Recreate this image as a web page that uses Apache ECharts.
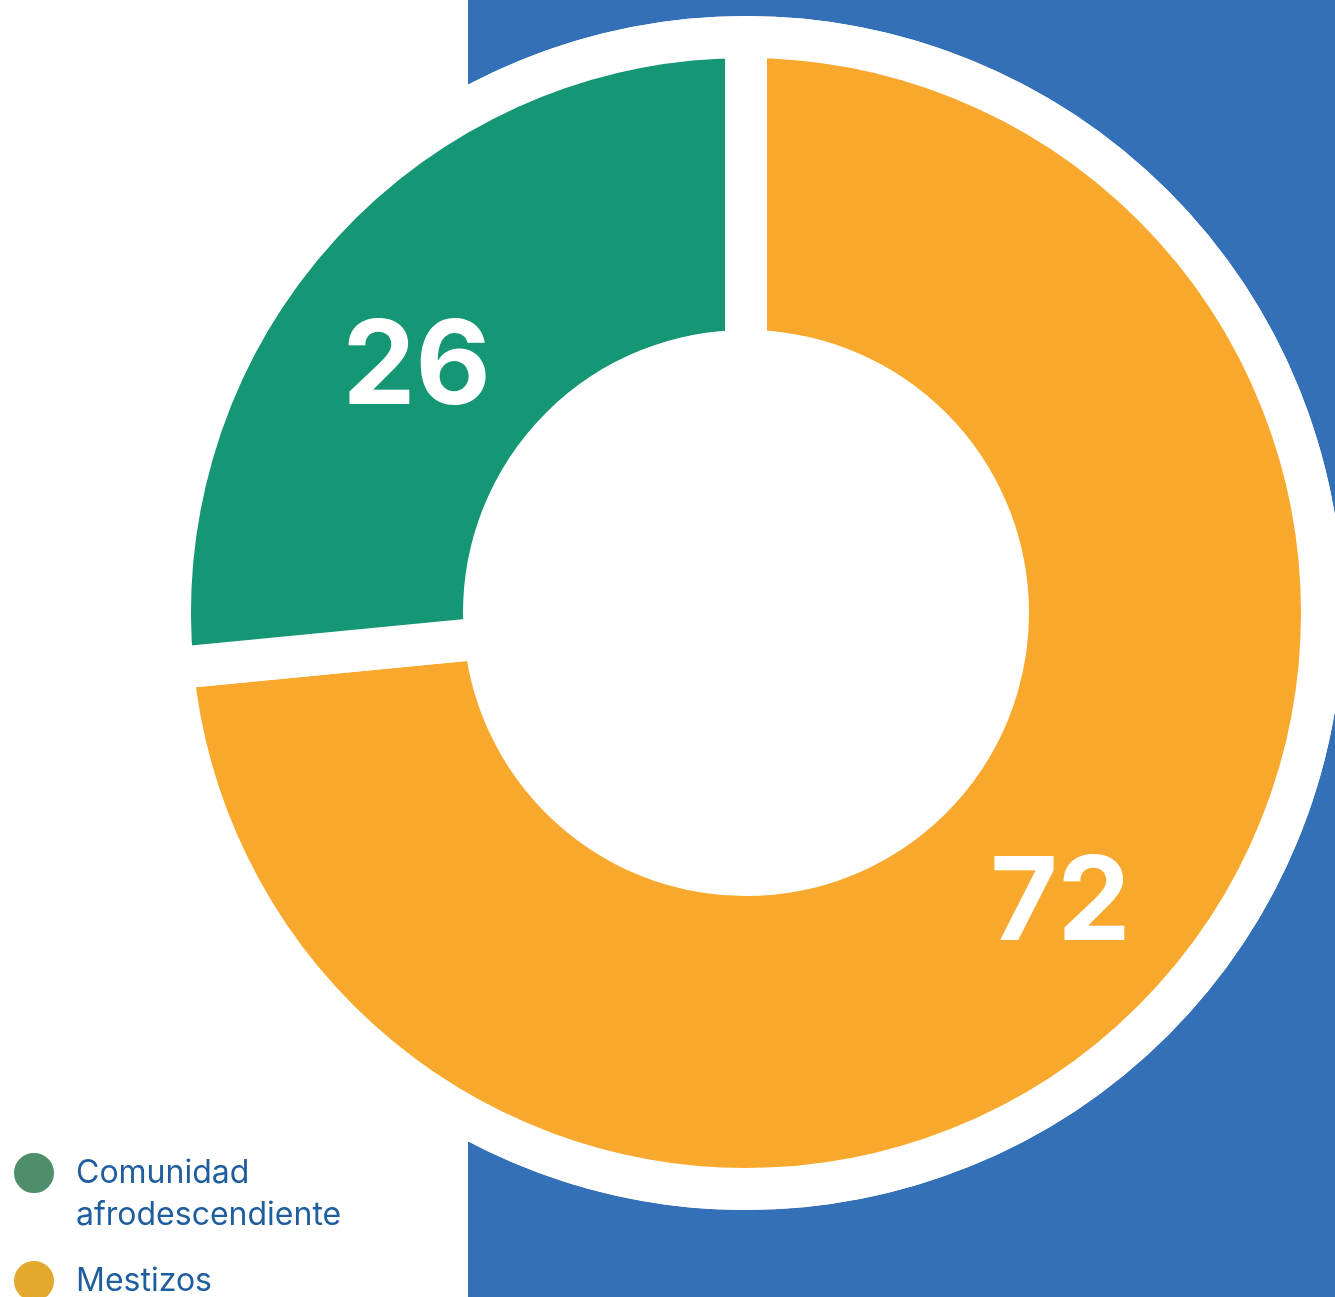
<!DOCTYPE html>
<html>
<head>
<meta charset="utf-8">
<style>
  html, body { margin: 0; padding: 0; background: #fff; }
  #chart { width: 1335px; height: 1297px; }
</style>
<script src="https://cdn.jsdelivr.net/npm/echarts@6/dist/echarts.min.js"></script>
</head>
<body>
<div id="chart"></div>
<script>
  // pie goes clockwise from 12 o'clock, so Mestizos first
  const categories = ['Mestizos', 'Comunidad\nafrodescendiente'];
  const values = [72, 26];
  const sliceColors = ['#F8A82D', '#159674'];
  const legendColors = ['#E3A92F', '#4F8E6B'];

  const chart = echarts.init(document.getElementById('chart'));

  const legendText = {
    color: '#1F5E9E',
    fontFamily: 'Inter',
    fontSize: 32,
    lineHeight: 42,
    padding: [0, 0, 0, 16]
  };

  chart.setOption({
    animation: false,
    graphic: [{
      type: 'rect',
      z: -10,
      shape: { x: 468, y: 0, width: 867, height: 1297 },
      style: { fill: '#3370B8' }
    }],
    legend: [{
      left: 12,
      top: 1110,
      padding: 0,
      icon: 'circle',
      itemWidth: 42,
      itemHeight: 42,
      selectedMode: false,
      // blank first line so "Comunidad" sits level with the dot
      formatter: name => ' \n' + name,
      data: [{ name: categories[1], itemStyle: { color: legendColors[1] } }],
      textStyle: legendText
    }, {
      left: 12,
      top: 1259,
      padding: 0,
      icon: 'circle',
      itemWidth: 42,
      itemHeight: 42,
      selectedMode: false,
      data: [{ name: categories[0], itemStyle: { color: legendColors[0] } }],
      textStyle: legendText
    }],
    series: [{
      // white disc behind the ring
      type: 'pie',
      center: [746, 613],
      radius: [0, 597],
      silent: true,
      z: 1,
      label: { show: false },
      labelLine: { show: false },
      itemStyle: { color: '#fff' },
      data: [{ name: 'fondo', value: 1 }]
    }, {
      type: 'pie',
      center: [746, 613],
      radius: [262, 576],
      startAngle: 90,
      clockwise: true,
      silent: true,
      z: 2,
      emphasis: { disabled: true },
      itemStyle: {
        borderColor: '#fff',
        borderWidth: 42,
        borderJoin: 'round'
      },
      label: {
        show: true,
        position: 'inside',
        formatter: '{c}',
        color: '#fff',
        fontFamily: 'Inter',
        fontWeight: 700,
        fontSize: 116
      },
      labelLine: { show: false },
      data: [
        { name: categories[0], value: values[0], itemStyle: { color: sliceColors[0] }, label: { offset: [2, 8] } },
        { name: categories[1], value: values[1], itemStyle: { color: sliceColors[1] }, label: { offset: [-17, 40] } }
      ]
    }]
  });
</script>
</body>
</html>
